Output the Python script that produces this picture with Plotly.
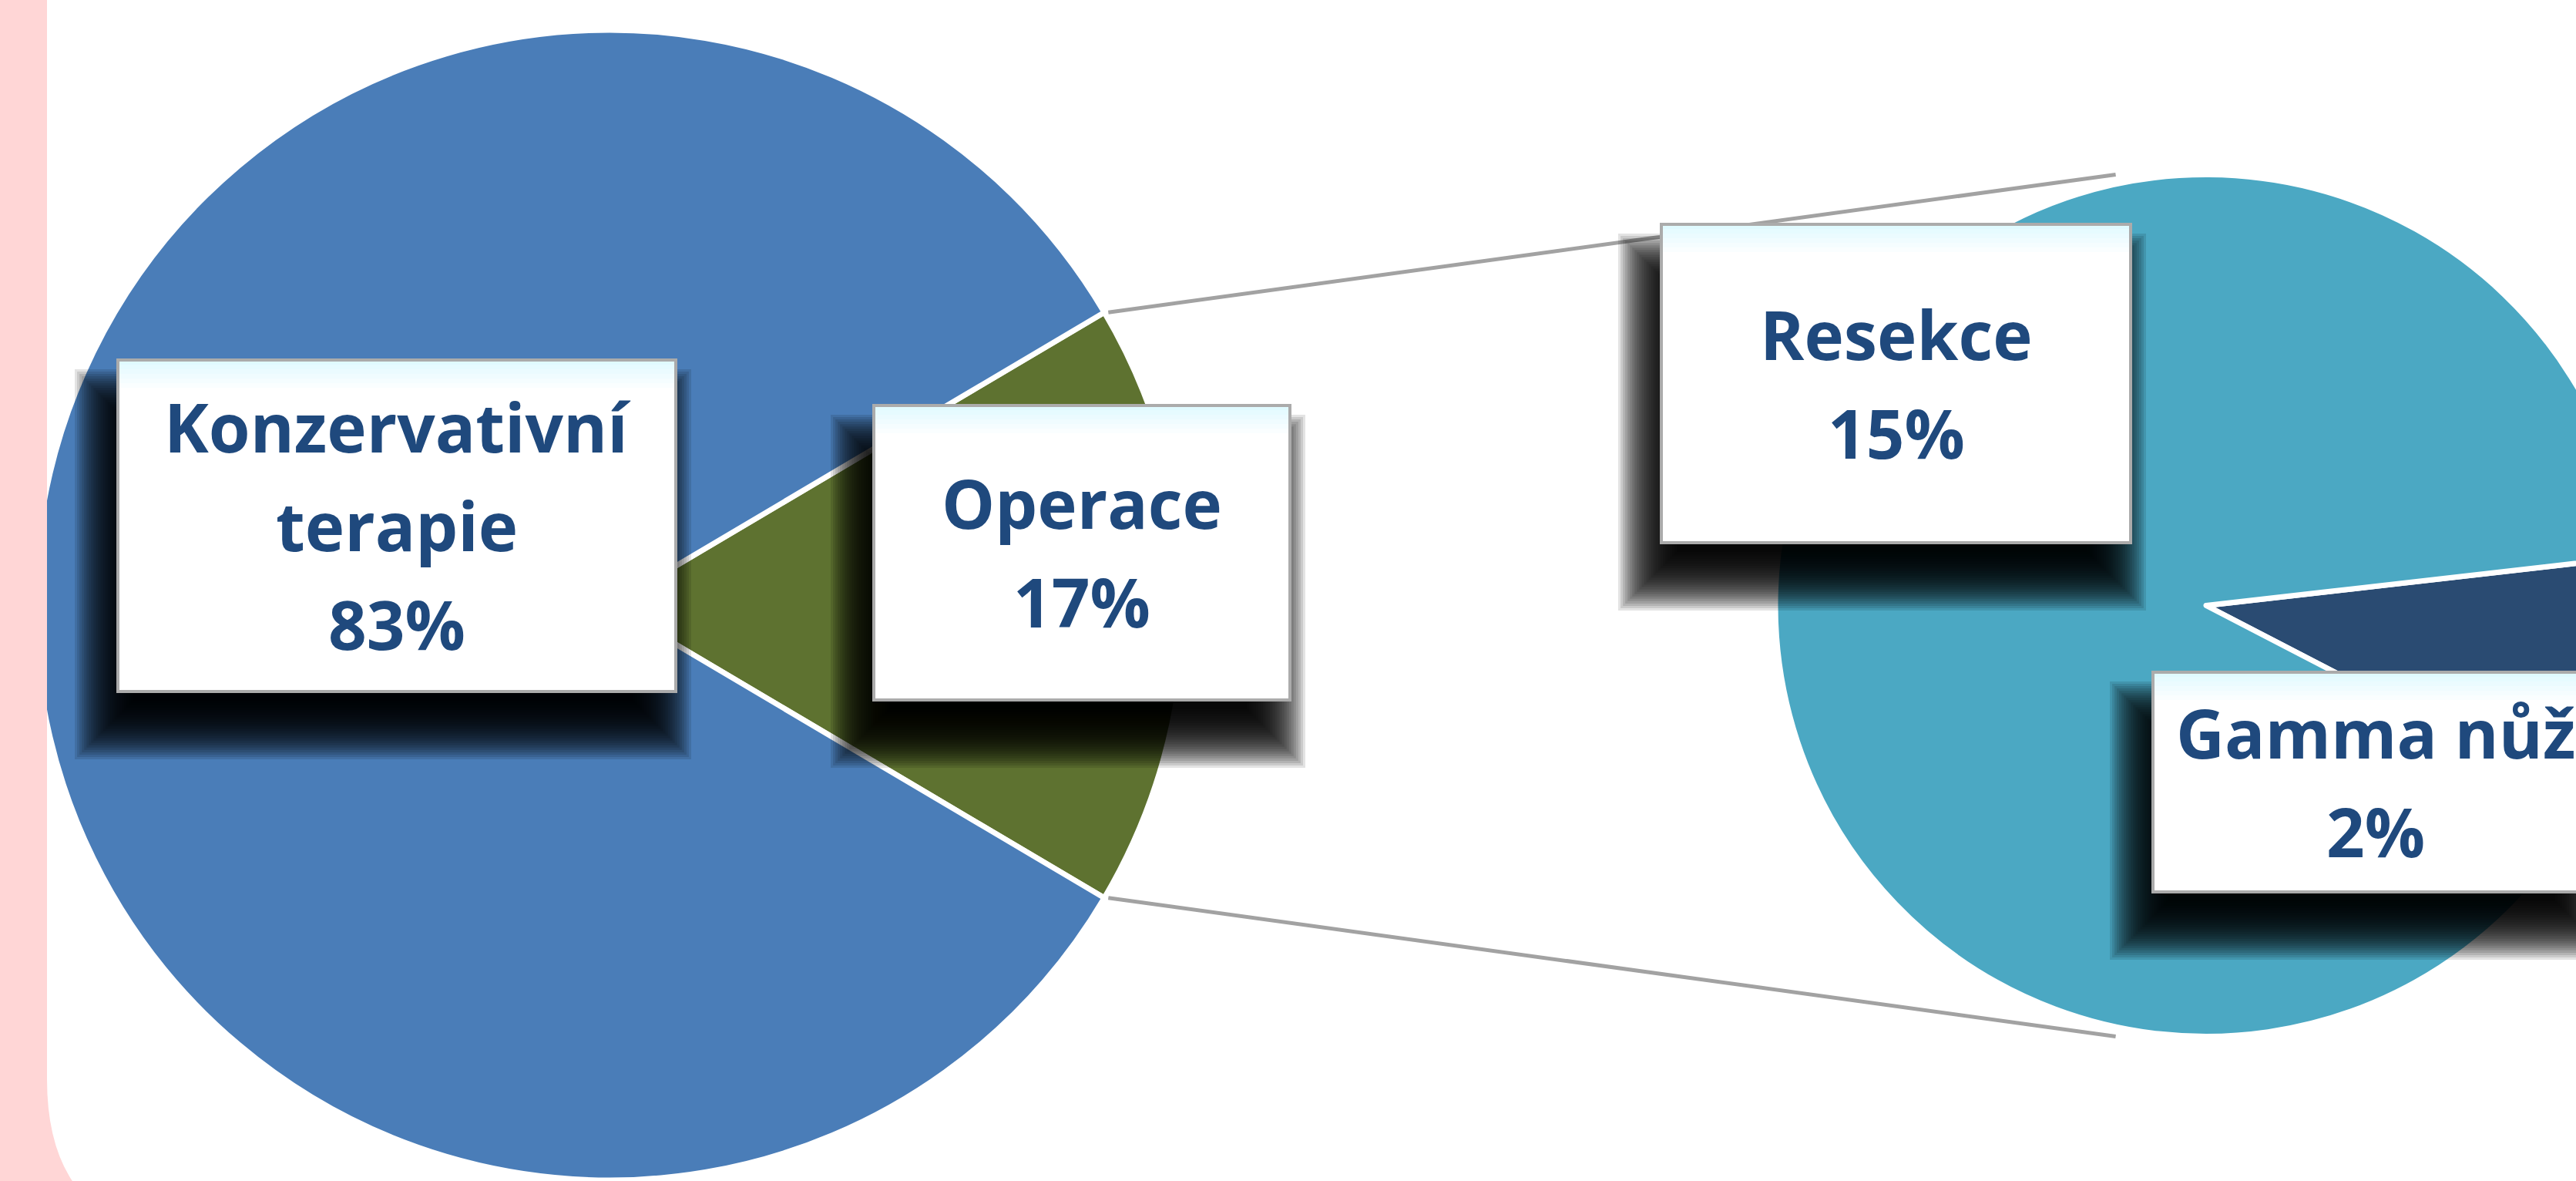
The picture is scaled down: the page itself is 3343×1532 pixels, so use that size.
import math
import plotly.graph_objects as go

# ---------------- data ----------------
main_labels = ["Konzervativní terapie", "Operace"]
main_values = [83, 17]
main_colors = ["#4A7DB8", "#5E7230"]

sub_labels = ["Resekce", "Gamma nůž"]
sub_values = [15.4, 1.6]
sub_colors = ["#4BA8C3", "#2A4B72"]

label_lines = {
    "Konzervativní terapie": ["Konzervativní", "terapie"],
    "Operace": ["Operace"],
    "Resekce": ["Resekce"],
    "Gamma nůž": ["Gamma nůž"],
}

# ---------------- geometry (pixels) ----------------
W, H = 3440, 1532
L_CX, L_CY, L_R = 791, 785, 746
R_CX, R_CY, R_R = 2863, 785.5, 559


def px(x):
    return x / W


def py(y):
    return 1 - y / H


fig = go.Figure()

total_main = sum(main_values)
op_frac = main_values[1] / total_main
fig.add_trace(go.Pie(
    labels=[main_labels[1], main_labels[0]],
    values=[main_values[1], main_values[0]],
    marker=dict(colors=[main_colors[1], main_colors[0]], line=dict(color="white", width=7)),
    sort=False, direction="clockwise",
    rotation=90 - op_frac * 180,
    textinfo="none", hoverinfo="label+percent", showlegend=False,
    domain=dict(x=[px(L_CX - L_R), px(L_CX + L_R)], y=[py(L_CY + L_R), py(L_CY - L_R)]),
))

fig.add_trace(go.Pie(
    labels=[sub_labels[1], sub_labels[0]],
    values=[sub_values[1], sub_values[0]],
    marker=dict(colors=[sub_colors[1], sub_colors[0]], line=dict(color="white", width=7)),
    sort=False, direction="clockwise",
    rotation=83.5,
    textinfo="none", hoverinfo="label+value", showlegend=False,
    domain=dict(x=[px(R_CX - R_R), px(R_CX + R_R)], y=[py(R_CY + R_R), py(R_CY - R_R)]),
))

shapes = []

# connector lines from the "Operace" wedge corners to the secondary pie
theta = op_frac * math.pi
for sgn in (-1, 1):
    x0 = L_CX + (L_R + 6) * math.cos(theta)
    y0 = L_CY + sgn * L_R * math.sin(theta)
    x1 = R_CX - 0.21 * R_R
    y1 = R_CY + sgn * R_R
    shapes.append(dict(type="line", xref="paper", yref="paper",
                       x0=px(x0), y0=py(y0), x1=px(x1), y1=py(y1),
                       line=dict(color="#A2A2A2", width=5), layer="below"))

# pink frame on the left (covers the pie edge)
pink_path = (f"M {px(0)} {py(0)} L {px(61)} {py(0)} L {px(61)} {py(1400)} "
             f"Q {px(61)} {py(1607)} {px(268)} {py(1607)} L {px(0)} {py(1607)} Z")
shapes.append(dict(type="path", xref="paper", yref="paper", path=pink_path,
                   fillcolor="#FFD6D6", line=dict(width=0), layer="above"))

# label boxes (x0, y0, x1, y1) in pixels
boxes = {
    "Konzervativní terapie": (153, 467, 877, 897),
    "Operace": (1134, 526, 1674, 908),
    "Resekce": (2156, 291, 2765, 704),
    "Gamma nůž": (2794, 872, 3372, 1157),
}
values_map = {main_labels[0]: main_values[0], main_labels[1]: main_values[1]}
for lab, v in zip(sub_labels, sub_values):
    values_map[lab] = v

annotations = []
SH_DX, SH_DY, BLUR, N = -18, 50, 76, 26
for lab, (bx0, by0, bx1, by1) in boxes.items():
    # soft shadow built from stacked translucent rectangles
    for i in range(N):
        e = -BLUR / 2 + BLUR * i / (N - 1)
        shapes.append(dict(type="rect", xref="paper", yref="paper",
                           x0=px(bx0 + SH_DX - e), x1=px(bx1 + SH_DX + e),
                           y0=py(by0 + SH_DY - e), y1=py(by1 + SH_DY + e),
                           fillcolor="black", opacity=0.11, line=dict(width=0), layer="above"))
    shapes.append(dict(type="rect", xref="paper", yref="paper",
                       x0=px(bx0), x1=px(bx1), y0=py(by0), y1=py(by1),
                       fillcolor="white", line=dict(width=0), layer="above"))
    for k, op in enumerate([0.9, 0.75, 0.6, 0.45, 0.3, 0.15]):
        shapes.append(dict(type="rect", xref="paper", yref="paper",
                           x0=px(bx0), x1=px(bx1), y0=py(by0 + k * 6), y1=py(by0 + (k + 1) * 6),
                           fillcolor="#DDF9FF", opacity=op, line=dict(width=0), layer="above"))
    shapes.append(dict(type="rect", xref="paper", yref="paper",
                       x0=px(bx0), x1=px(bx1), y0=py(by0), y1=py(by1),
                       fillcolor="rgba(0,0,0,0)", line=dict(color="#ABABAB", width=4), layer="above"))

    lines = label_lines[lab] + [f"{round(values_map[lab])}%"]
    n = len(lines)
    cx = (bx0 + bx1) / 2
    cy = (by0 + by1) / 2
    for i, t in enumerate(lines):
        mid = cy + (i - (n - 1) / 2) * 128 + 2
        annotations.append(dict(text=f"<b>{t}</b>", x=px(cx), y=py(mid - 3),
                                xref="paper", yref="paper", showarrow=False,
                                xanchor="center", yanchor="middle",
                                font=dict(family="Open Sans", size=87, color="#1F497D")))

fig.update_layout(
    width=W, height=H,
    margin=dict(l=0, r=0, t=0, b=0, pad=0),
    paper_bgcolor="white", plot_bgcolor="white",
    showlegend=False,
    shapes=shapes, annotations=annotations,
)

fig.write_html("out.html",
               post_script="document.body.style.margin='0';document.body.style.overflow='hidden';")
